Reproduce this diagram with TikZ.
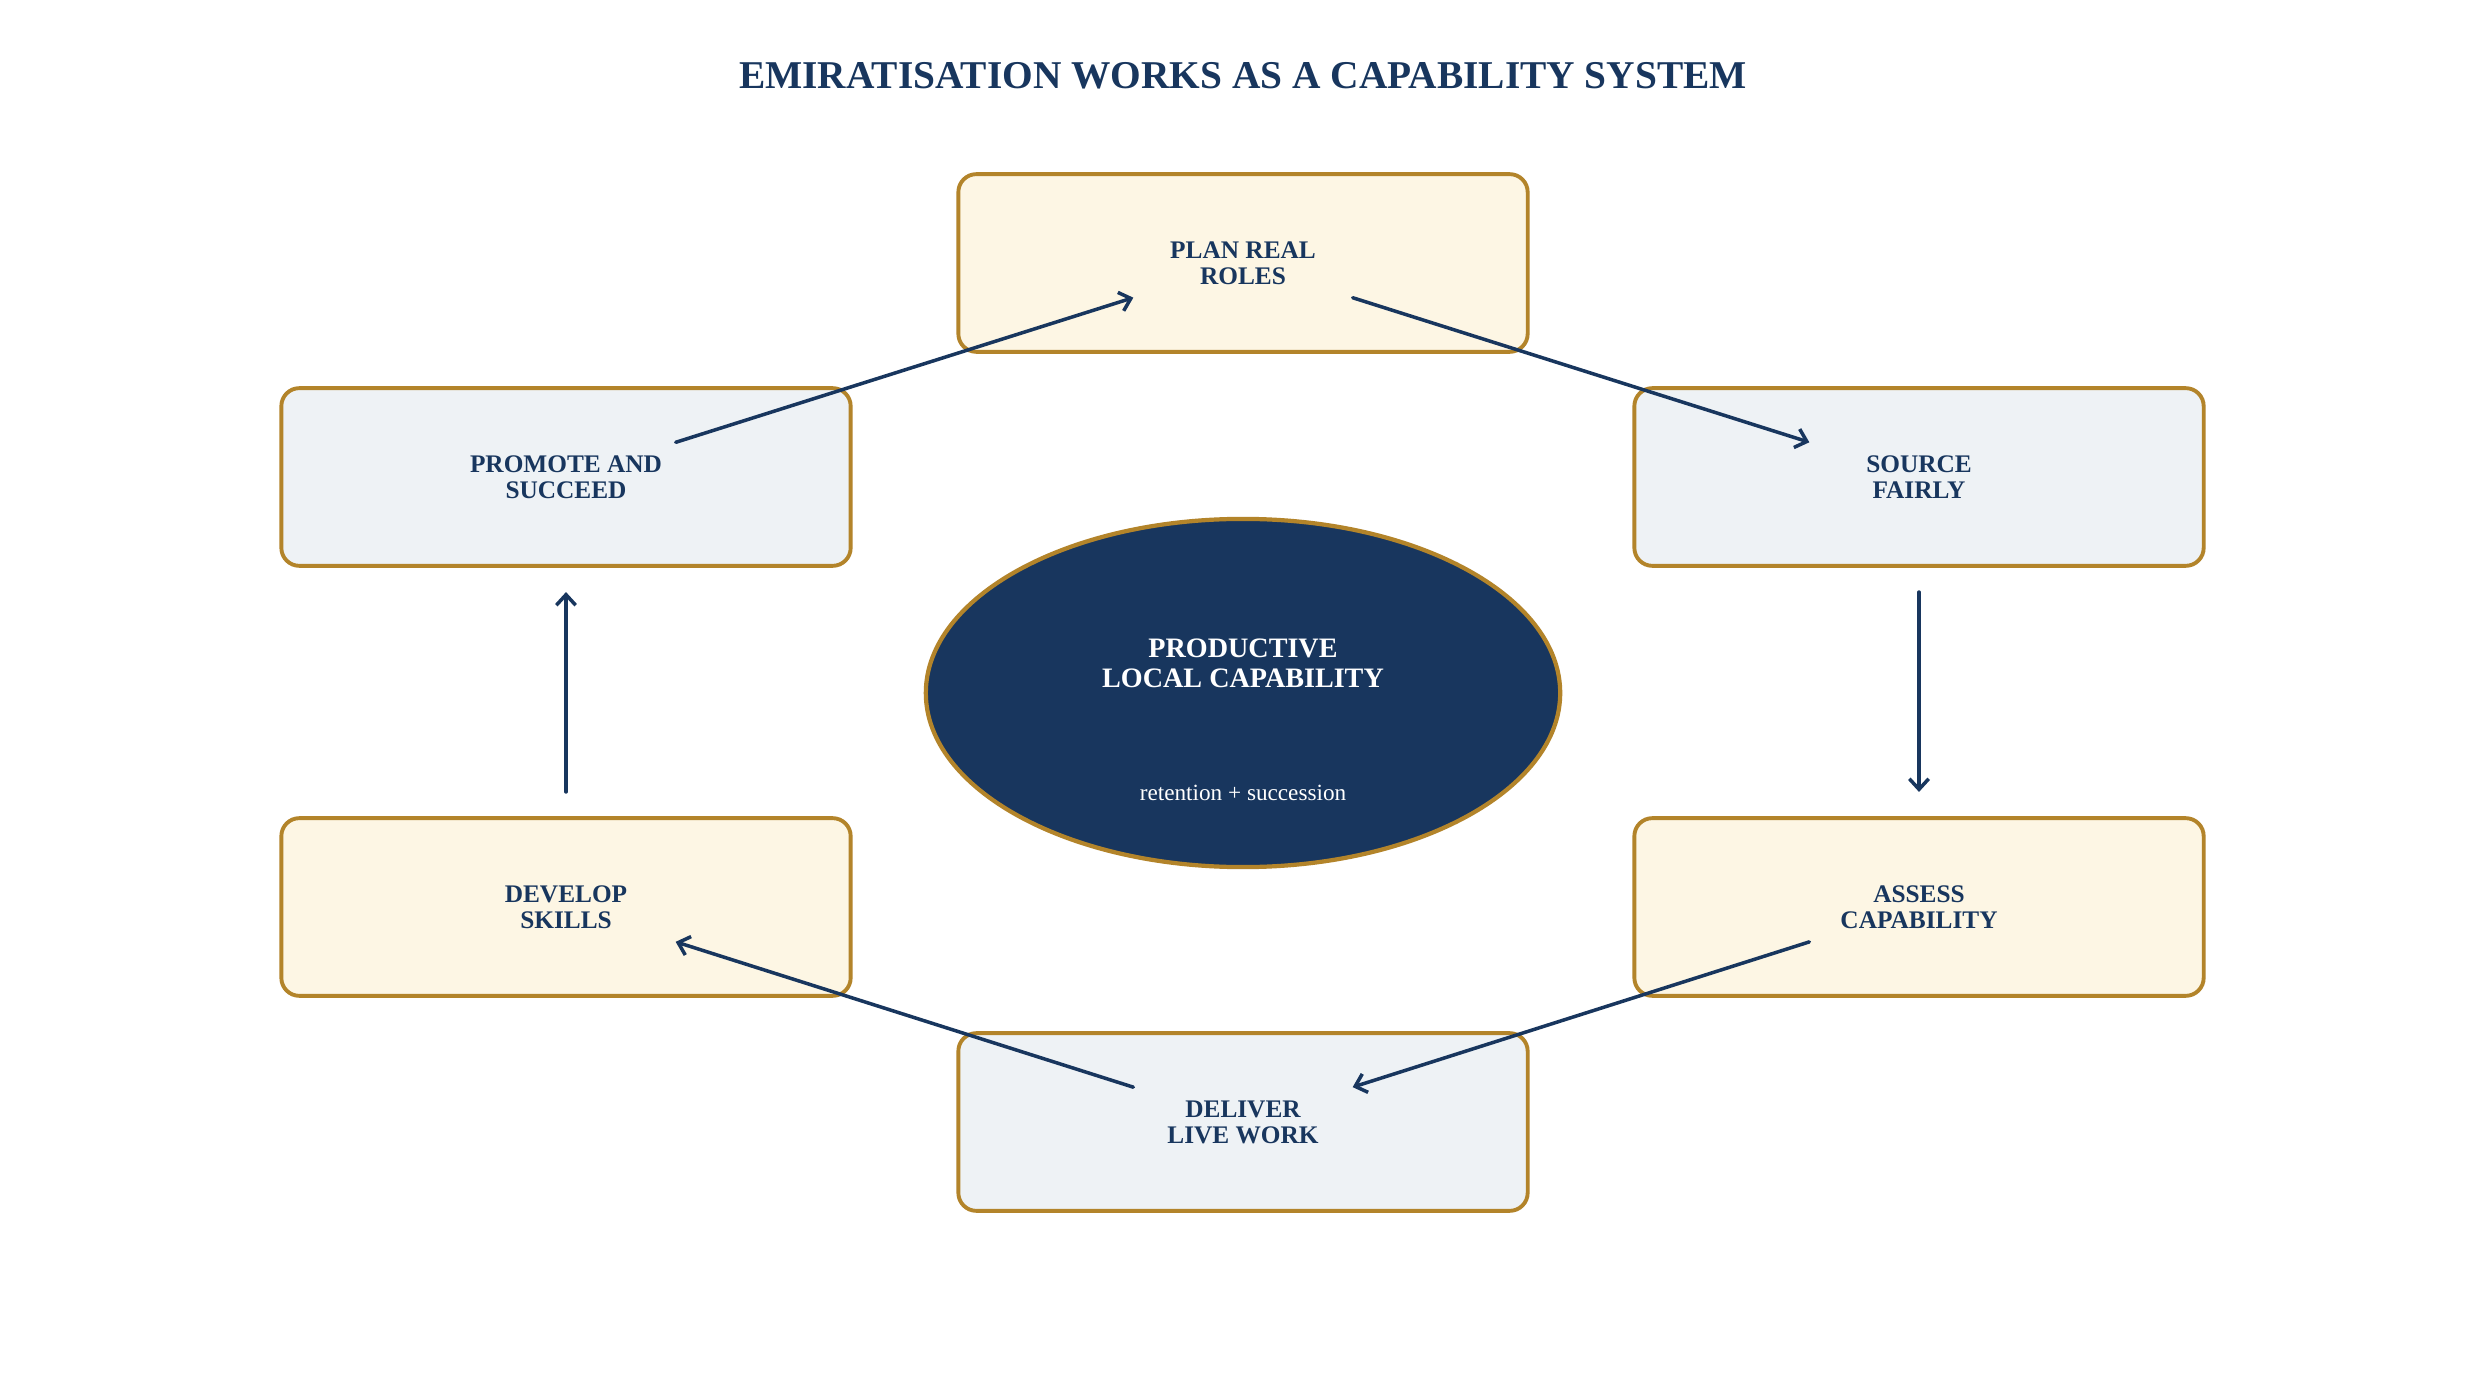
\documentclass[tikz,border=0pt]{standalone}
\usepackage{fontspec}
\setmainfont{Liberation Serif}
\usetikzlibrary{arrows.meta,shapes.geometric}
\definecolor{navy}{HTML}{18365E}
\definecolor{gold}{HTML}{B3842A}
\definecolor{cream}{HTML}{FDF6E4}
\definecolor{mist}{HTML}{EEF2F5}
\begin{document}
\begin{tikzpicture}[x=0.01cm,y=-0.01cm,
  stagebox/.style={draw=gold,line width=1.1pt,rounded corners=0.18cm,
    minimum width=5.69cm,minimum height=1.776cm,inner sep=0pt,
    font=\fontsize{7.2}{7.4}\selectfont\bfseries,text=navy,align=center},
  warm/.style={stagebox,fill=cream},
  cool/.style={stagebox,fill=mist},
  flow/.style={draw=navy,line width=1pt,line cap=round,
    -{Straight Barb[length=3pt,width=5.5pt,line width=1pt]},
    shorten <=1.15cm,shorten >=1.15cm}]
\useasboundingbox (0,0) rectangle (2486,1386);
\fill[white] (0,0) rectangle (2486,1386);

\node[font=\fontsize{11.2}{13}\selectfont\bfseries,text=navy,anchor=base] (title) at (1243,89)
  {EMIRATISATION WORKS AS A CAPABILITY SYSTEM};

\node[warm] (top) at (1243,263) {PLAN REAL\\ROLES};
\node[cool] (lu) at (566,477) {PROMOTE AND\\SUCCEED};
\node[cool] (ru) at (1919,477) {SOURCE\\FAIRLY};
\node[warm] (ll) at (566,907) {DEVELOP\\SKILLS};
\node[warm] (rl) at (1919,907) {ASSESS\\CAPABILITY};
\node[cool] (bot) at (1243,1122) {DELIVER\\LIVE WORK};

\node[ellipse,draw=gold,fill=navy,line width=1.2pt,minimum width=6.34cm,minimum height=3.48cm,inner sep=0pt] (core) at (1243,693) {};
\node[font=\fontsize{8.0}{8.6}\selectfont\bfseries,text=white,align=center] (coretitle) at (1243,663) {PRODUCTIVE\\LOCAL CAPABILITY};
\node[font=\fontsize{6.6}{8}\selectfont,text=white,anchor=base] (coresub) at (1243,800) {retention + succession};

\draw[flow] (lu.center) -- (top.center);
\draw[flow] (top.center) -- (ru.center);
\draw[flow] (ru.center) -- (rl.center);
\draw[flow] (rl.center) -- (bot.center);
\draw[flow] (bot.center) -- (ll.center);
\draw[flow] (ll.center) -- (lu.center);
\end{tikzpicture}
\end{document}
